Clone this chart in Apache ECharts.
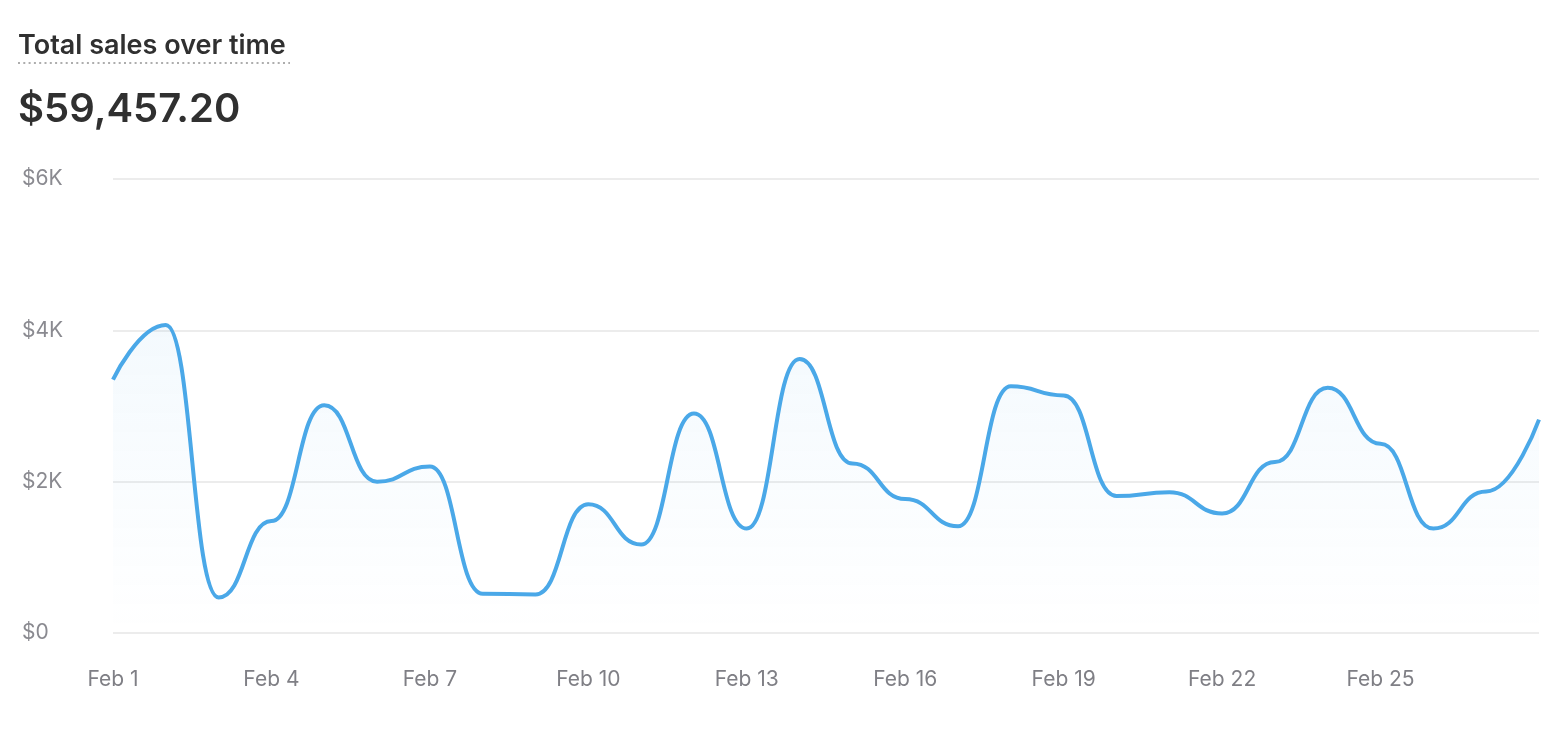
<!DOCTYPE html>
<html>
<head>
<meta charset="utf-8">
<script src="https://cdn.jsdelivr.net/npm/echarts@6/dist/echarts.min.js"></script>
<style>
  html, body { margin: 0; padding: 0; background: #fff; }
  #main { width: 1568px; height: 736px; }
</style>
</head>
<body>
<div id="main"></div>
<script>
var days = ['Feb 1', 'Feb 2', 'Feb 3', 'Feb 4', 'Feb 5', 'Feb 6', 'Feb 7', 'Feb 8', 'Feb 9', 'Feb 10',
  'Feb 11', 'Feb 12', 'Feb 13', 'Feb 14', 'Feb 15', 'Feb 16', 'Feb 17', 'Feb 18', 'Feb 19', 'Feb 20',
  'Feb 21', 'Feb 22', 'Feb 23', 'Feb 24', 'Feb 25', 'Feb 26', 'Feb 27', 'Feb 28'];
var sales = [3350, 4070, 470, 1480, 3010, 2000, 2200, 520, 510, 1700,
  1170, 2900, 1380, 3620, 2240, 1770, 1410, 3260, 3140, 1810,
  1860, 1580, 2260, 3240, 2500, 1380, 1870, 2820];
var totalLabel = '$59,457.20';

var dom = document.getElementById('main');
var myChart = echarts.init(dom, null, { renderer: 'canvas' });

var font = 'Inter, "Noto Sans", sans-serif';

var option = {
  animation: false,
  title: [
    {
      text: 'Total sales over time',
      left: 13,
      top: 27,
      textStyle: { fontFamily: font, fontSize: 27, fontWeight: 600, color: '#303030' }
    },
    {
      text: totalLabel,
      left: 13,
      top: 85,
      textStyle: { fontFamily: font, fontSize: 40, fontWeight: 600, color: '#303030' }
    }
  ],
  graphic: [
    {
      type: 'line',
      shape: { x1: 18, y1: 63, x2: 290, y2: 63 },
      style: { stroke: '#adadad', lineWidth: 2, lineDash: [2, 3.3] }
    }
  ],
  grid: { left: 113, right: 29, top: 179, bottom: 103 },
  xAxis: {
    type: 'category',
    data: days,
    boundaryGap: false,
    axisLine: { show: false },
    axisTick: { show: false },
    axisLabel: {
      interval: function (i) { return i % 3 === 0 && i < 27; },
      margin: 36,
      fontFamily: font,
      fontSize: 21,
      color: '#7f7f85'
    }
  },
  yAxis: {
    type: 'value',
    min: 0,
    max: 6000,
    interval: 2000,
    axisLine: { show: false },
    axisTick: { show: false },
    splitLine: { lineStyle: { color: '#ececec', width: 2 } },
    axisLabel: {
      align: 'left',
      margin: 91,
      fontFamily: font,
      fontSize: 21,
      color: '#8a8a90',
      formatter: function (v) { return v === 0 ? '$0' : '$' + (v / 1000) + 'K'; }
    }
  },
  series: [
    {
      type: 'line',
      data: sales,
      smooth: 0.5,
      smoothMonotone: 'x',
      showSymbol: false,
      lineStyle: { color: '#4aa8e8', width: 4 },
      areaStyle: {
        color: new echarts.graphic.LinearGradient(0, 0, 0, 1, [
          { offset: 0, color: 'rgba(74,168,232,0.09)' },
          { offset: 1, color: 'rgba(74,168,232,0.0)' }
        ])
      }
    }
  ]
};

myChart.setOption(option);
window.addEventListener('resize', myChart.resize);
</script>
</body>
</html>
